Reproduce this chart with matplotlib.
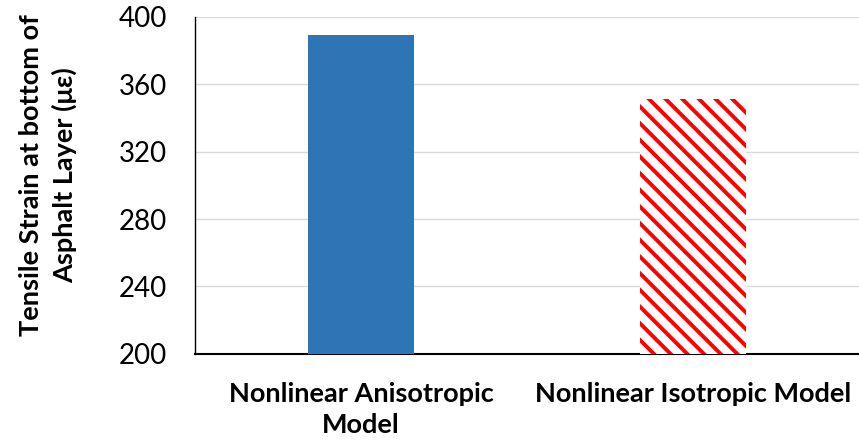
import numpy as np
import matplotlib.pyplot as plt

categories = ['Nonlinear Anisotropic\nModel', 'Nonlinear Isotropic Model']
strain = [389, 351]
yticks = [200, 240, 280, 320, 360, 400]

plt.rcParams['font.family'] = ['Lato', 'DejaVu Sans']
plt.rcParams['hatch.linewidth'] = 2.8

fig = plt.figure(figsize=(8.59, 4.44), dpi=100)
ax = fig.add_axes([0.227, 0.203, 0.773, 0.759])

x = np.arange(len(categories))
ax.bar(x[0], strain[0], width=0.32, color='#2E75B6', zorder=3)
ax.bar(x[1], strain[1], width=0.32, color='white', edgecolor='red',
       hatch='\\\\', linewidth=0, zorder=3)

ax.set_xlim(-0.5, 1.5)
ax.set_ylim(200, 400)
ax.set_yticks(yticks)
ax.set_xticks(x)
ax.set_xticklabels(categories, fontsize=19.5, fontweight='bold', linespacing=1.35)
ax.tick_params(axis='x', length=0, pad=20)
ax.tick_params(axis='y', length=0, pad=20, labelsize=20)
ax.yaxis.grid(True, color='#D9D9D9', linewidth=1, zorder=0)

for s in ['top', 'right']:
    ax.spines[s].set_visible(False)
ax.spines['left'].set_color('black')
ax.spines['left'].set_linewidth(1)
ax.spines['bottom'].set_color('black')
ax.spines['bottom'].set_linewidth(1.5)

ax.set_ylabel('Tensile Strain at bottom of\nAsphalt Layer (\u03bc\u03b5)',
              fontsize=19.5, fontweight='bold', linespacing=1.4)
ax.yaxis.set_label_coords(-0.178, 0.53)

fig.savefig('out.png', dpi=100)
